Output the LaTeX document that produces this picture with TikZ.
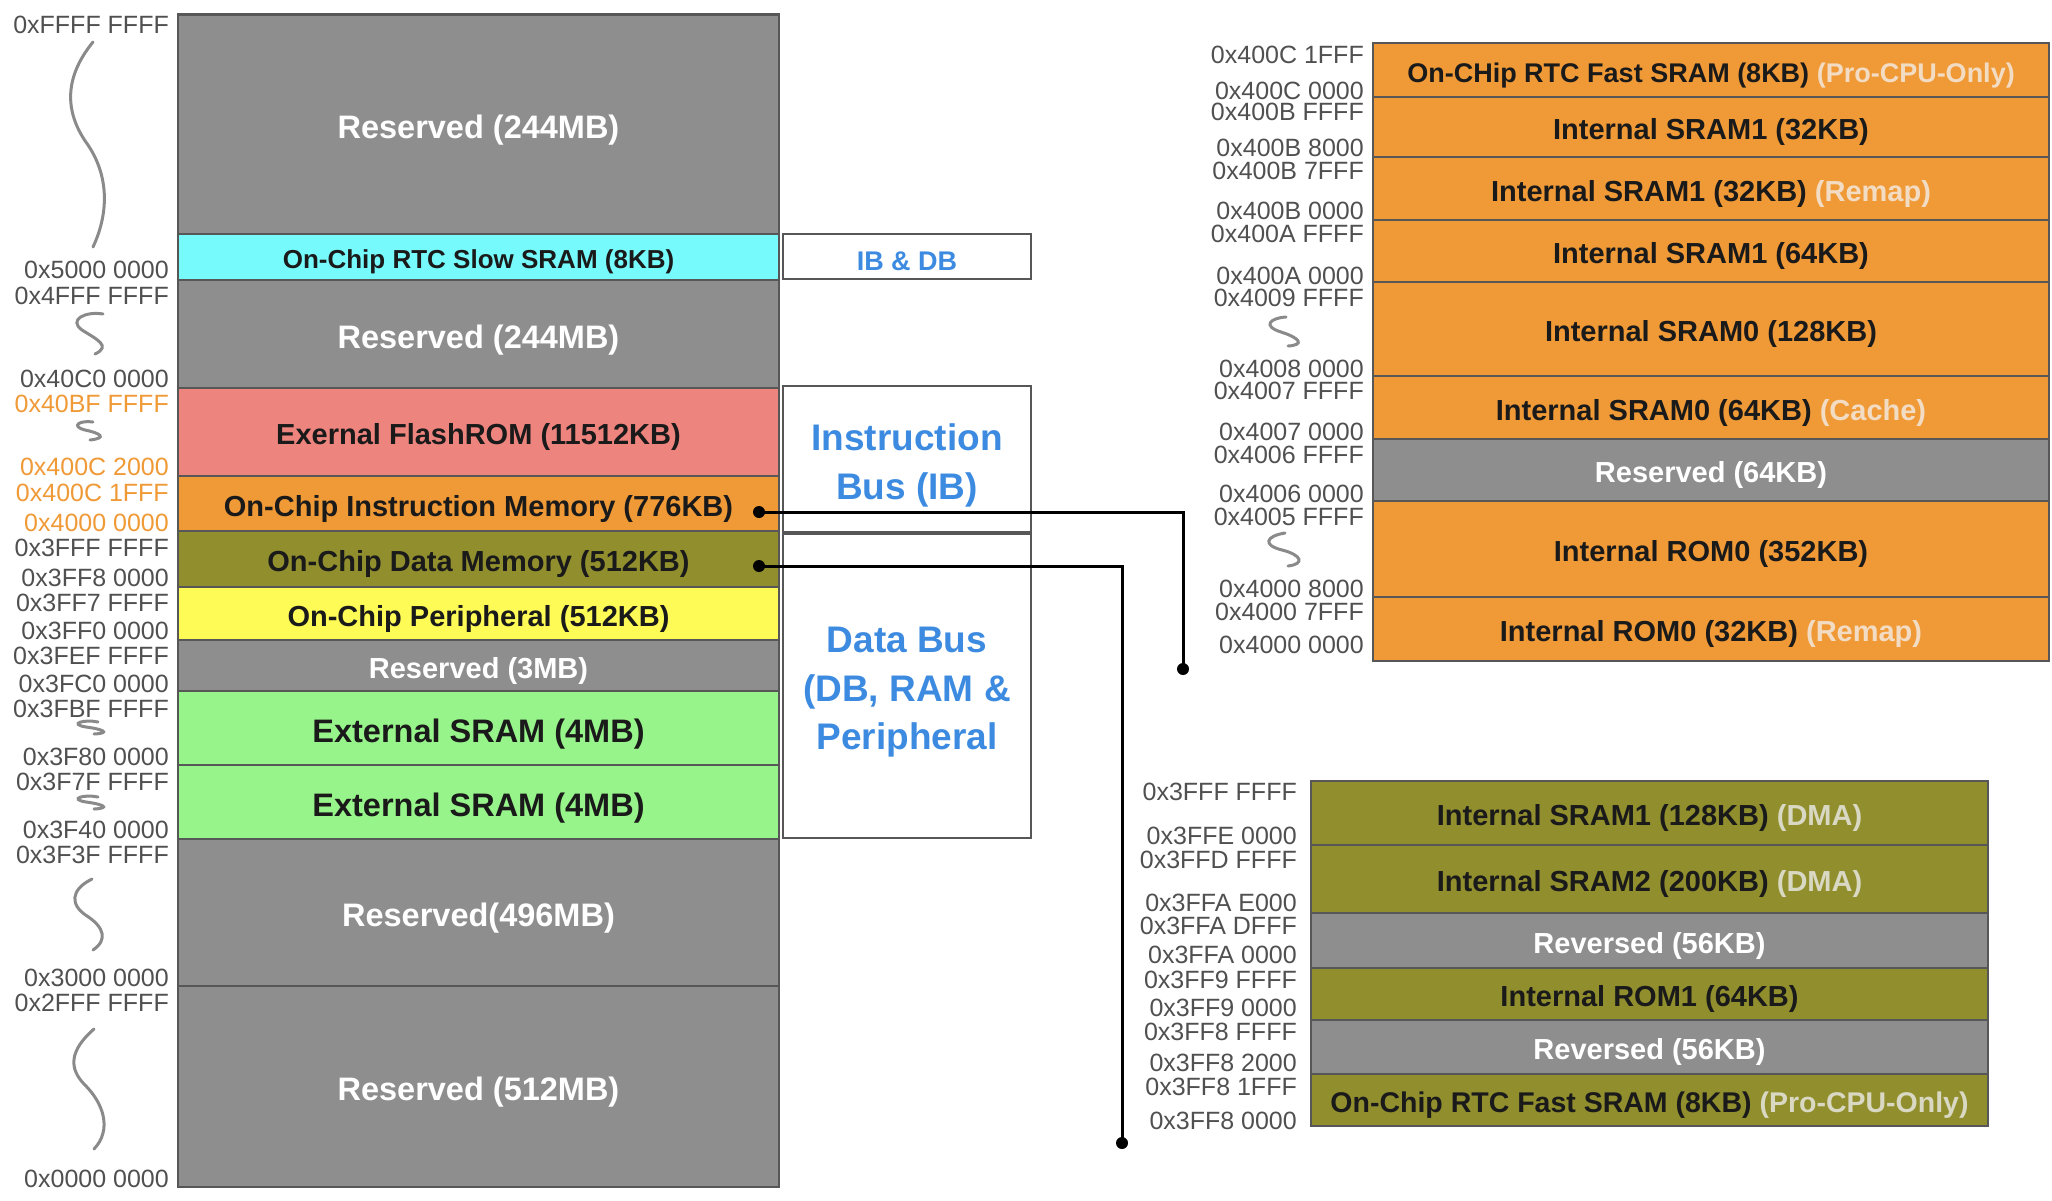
\documentclass[tikz,border=0pt]{standalone}
\usepackage{fontspec}
\setmainfont{Liberation Sans}
\definecolor{rsv}{HTML}{8E8E8E}
\definecolor{cyn}{HTML}{76FAFC}
\definecolor{slm}{HTML}{EE847E}
\definecolor{org}{HTML}{F09A37}
\definecolor{olv}{HTML}{918E2E}
\definecolor{ylw}{HTML}{FEFB56}
\definecolor{grn}{HTML}{97F48A}
\definecolor{brd}{HTML}{575757}
\definecolor{adr}{HTML}{505050}
\definecolor{ltor}{HTML}{F3DCC4}
\definecolor{ltol}{HTML}{D9D8C2}
\definecolor{blu}{HTML}{3D8BE0}
\definecolor{sqg}{HTML}{8A8A8A}
\definecolor{txk}{HTML}{1A1A1A}
\newcommand\mrow[8]{%
  \pgfmathsetmacro\mcx{(#2+#3)/2}%
  \pgfmathsetmacro\mcy{(#4+#5)/2}%
  \pgfmathsetmacro\mw{#3-#2}%
  \pgfmathsetmacro\mh{#5-#4}%
  \node[mbox, fill=#6, #7, minimum width=\mw pt, minimum height=\mh pt] (#1) at (\mcx,\mcy) {#8};}
\begin{document}
\begin{tikzpicture}[x=1pt,y=-1pt,
  mbox/.style={draw=brd, line width=2.5pt, inner sep=0pt, text=txk, text depth=0pt},
  wt/.style={text=white},
  tbig/.style={font=\fontsize{32.5}{34}\selectfont\bfseries, text height=28.4pt},
  tmed/.style={font=\fontsize{29}{31}\selectfont\bfseries, text height=25.9pt},
  tsml/.style={font=\fontsize{26}{28}\selectfont\bfseries, text height=23.7pt},
  tfast/.style={font=\fontsize{27}{29}\selectfont\bfseries, text height=24.4pt},
  tfastb/.style={font=\fontsize{28.5}{30}\selectfont\bfseries, text height=25.5pt},
  addr/.style={font=\fontsize{25}{27}\selectfont, text=adr, anchor=east, inner sep=0pt, yshift=-1.5pt},
  oaddr/.style={addr, text=org},
  busbox/.style={draw=brd, line width=2.5pt, inner sep=0pt},
  bustext/.style={text=blu, align=center, inner sep=0pt, font=\fontsize{37}{48.5}\selectfont\bfseries},
  sq/.style={draw=sqg, line width=3pt, line cap=round},
  conn/.style={draw=black, line width=3pt},
  dot/.style={circle, fill=black, inner sep=0pt, minimum size=12pt}]
\useasboundingbox (0,0) rectangle (2052,1200);

% ---------------- left column ----------------
\mrow{r1}{178}{779}{14.5}{234}{rsv}{wt,tbig}{Reserved (244MB)}
\mrow{r2}{178}{779}{234}{280}{cyn}{tsml}{On-Chip RTC Slow SRAM (8KB)}
\mrow{r3}{178}{779}{280}{388}{rsv}{wt,tbig}{Reserved (244MB)}
\mrow{r4}{178}{779}{388}{476}{slm}{tmed}{Exernal FlashROM (11512KB)}
\mrow{r5}{178}{779}{476}{531}{org}{tmed}{On-Chip Instruction Memory (776KB)}
\mrow{r6}{178}{779}{531}{587}{olv}{tmed}{On-Chip Data Memory (512KB)}
\mrow{r7}{178}{779}{587}{640}{ylw}{tmed}{On-Chip Peripheral (512KB)}
\mrow{r8}{178}{779}{640}{691}{rsv}{wt,tmed}{Reserved (3MB)}
\mrow{r9}{178}{779}{691}{765}{grn}{tbig}{External SRAM (4MB)}
\mrow{r10}{178}{779}{765}{839}{grn}{tbig}{External SRAM (4MB)}
\mrow{r11}{178}{779}{839}{986}{rsv}{wt,tbig}{Reserved(496MB)}
\mrow{r12}{178}{779}{986}{1187}{rsv}{wt,tbig}{Reserved (512MB)}

% left addresses
\foreach \yy/\tx [count=\i] in {23.5/0xFFFF FFFF, 268/0x5000 0000, 294.5/0x4FFF FFFF,
  377/0x40C0 0000, 546/0x3FFF FFFF, 576/0x3FF8 0000, 601/0x3FF7 FFFF,
  629.5/0x3FF0 0000, 654/0x3FEF FFFF, 682/0x3FC0 0000, 707/0x3FBF FFFF,
  755/0x3F80 0000, 780/0x3F7F FFFF, 828/0x3F40 0000, 853/0x3F3F FFFF,
  976/0x3000 0000, 1001.5/0x2FFF FFFF, 1177/0x0000 0000}
  \node[addr] (la\i) at (169,\yy) {\tx};
\foreach \yy/\tx [count=\i] in {402/0x40BF FFFF, 465/0x400C 2000, 491/0x400C 1FFF, 521/0x4000 0000}
  \node[oaddr] (lo\i) at (169,\yy) {\tx};

% left squiggles
\draw[sq] (93,42) .. controls (62,80) and (66,115) .. (88,145) .. controls (110,178) and (108,215) .. (93,247);
\draw[sq] (103,314) .. controls (85,311) and (68,320) .. (82,330) .. controls (96,339) and (112,346) .. (95,354);
\draw[sq] (93,422) .. controls (80,420) and (70,426) .. (85,430) .. controls (100,433) and (108,438) .. (90,440);
\draw[sq] (98,722) .. controls (84,719) and (68,724) .. (86,727) .. controls (102,729) and (112,733) .. (94,734);
\draw[sq] (98,797) .. controls (84,794) and (68,799) .. (86,802) .. controls (102,804) and (112,808) .. (94,809);
\draw[sq] (92,879) .. controls (70,890) and (70,905) .. (87,916) .. controls (104,927) and (108,940) .. (93,950);
\draw[sq] (94,1029) .. controls (70,1050) and (68,1068) .. (85,1085) .. controls (104,1104) and (112,1130) .. (94,1149);

% ---------------- bus boxes ----------------
\node[busbox, minimum width=248pt, minimum height=45pt] (ibdb) at (907,256.5) {};
\node[bustext, font=\fontsize{27}{29}\selectfont\bfseries] (ibdbt) at (907,261) {IB \& DB};
\node[busbox, minimum width=248pt, minimum height=146pt] (ibus) at (907,459) {};
\node[bustext] (ibust) at (907,465.5) {Instruction\\Bus (IB)};
\node[busbox, minimum width=248pt, minimum height=304pt] (dbus) at (907,686) {};
\node[bustext] (dbust) at (907,692.5) {Data Bus\\(DB, RAM \&\\Peripheral};

% ---------------- right top column ----------------
\mrow{t1}{1373}{2049}{43}{97}{org}{tfast}{On-CHip RTC Fast SRAM (8KB) \textcolor{ltor}{(Pro-CPU-Only)}}
\mrow{t2}{1373}{2049}{97}{157}{org}{tmed}{Internal SRAM1 (32KB)}
\mrow{t3}{1373}{2049}{157}{220}{org}{tmed}{Internal SRAM1 (32KB) \textcolor{ltor}{(Remap)}}
\mrow{t4}{1373}{2049}{220}{282}{org}{tmed}{Internal SRAM1 (64KB)}
\mrow{t5}{1373}{2049}{282}{376}{org}{tmed}{Internal SRAM0 (128KB)}
\mrow{t6}{1373}{2049}{376}{439}{org}{tmed}{Internal SRAM0 (64KB) \textcolor{ltor}{(Cache)}}
\mrow{t7}{1373}{2049}{439}{501}{rsv}{wt,tmed}{Reserved (64KB)}
\mrow{t8}{1373}{2049}{501}{597}{org}{tmed}{Internal ROM0 (352KB)}
\mrow{t9}{1373}{2049}{597}{661}{org}{tmed}{Internal ROM0 (32KB) \textcolor{ltor}{(Remap)}}

\foreach \yy/\tx [count=\i] in {53.7/0x400C 1FFF, 89.4/0x400C 0000, 110.5/0x400B FFFF,
  146/0x400B 8000, 169.4/0x400B 7FFF, 209.4/0x400B 0000, 232.5/0x400A FFFF,
  274.6/0x400A 0000, 296.5/0x4009 FFFF, 367/0x4008 0000, 389.5/0x4007 FFFF,
  430/0x4007 0000, 453.5/0x4006 FFFF, 492/0x4006 0000, 515.8/0x4005 FFFF,
  587/0x4000 8000, 610/0x4000 7FFF, 643.7/0x4000 0000}
  \node[addr] (ra\i) at (1364,\yy) {\tx};

\draw[sq] (1286,317) .. controls (1270,318) and (1262,326) .. (1281,332) .. controls (1300,338) and (1305,345) .. (1288,346);
\draw[sq] (1285,533) .. controls (1266,536) and (1262,545) .. (1282,550) .. controls (1302,555) and (1305,564) .. (1288,566);

% ---------------- right bottom column ----------------
\mrow{b1}{1311}{1988}{781}{845}{olv}{tmed}{Internal SRAM1 (128KB) \textcolor{ltol}{(DMA)}}
\mrow{b2}{1311}{1988}{845}{913}{olv}{tmed}{Internal SRAM2 (200KB) \textcolor{ltol}{(DMA)}}
\mrow{b3}{1311}{1988}{913}{968}{rsv}{wt,tmed}{Reversed (56KB)}
\mrow{b4}{1311}{1988}{968}{1020}{olv}{tmed}{Internal ROM1 (64KB)}
\mrow{b5}{1311}{1988}{1020}{1074}{rsv}{wt,tmed}{Reversed (56KB)}
\mrow{b6}{1311}{1988}{1074}{1126}{olv}{tfastb}{On-Chip RTC Fast SRAM (8KB) \textcolor{ltol}{(Pro-CPU-Only)}}

\foreach \yy/\tx [count=\i] in {790.7/0x3FFF FFFF, 834/0x3FFE 0000, 858/0x3FFD FFFF,
  901.7/0x3FFA E000, 924/0x3FFA DFFF, 953/0x3FFA 0000, 978/0x3FF9 FFFF,
  1006.7/0x3FF9 0000, 1030.7/0x3FF8 FFFF, 1061.7/0x3FF8 2000, 1085/0x3FF8 1FFF,
  1119.3/0x3FF8 0000}
  \node[addr] (ba\i) at (1297,\yy) {\tx};

% ---------------- connectors ----------------
\node[dot] (ia) at (759,512) {};
\node[dot] (ib) at (1183,669) {};
\draw[conn] (ia.center) -| (ib.center);
\node[dot] (da) at (759,566) {};
\node[dot] (db) at (1122,1143) {};
\draw[conn] (da.center) -| (db.center);
\end{tikzpicture}
\end{document}
